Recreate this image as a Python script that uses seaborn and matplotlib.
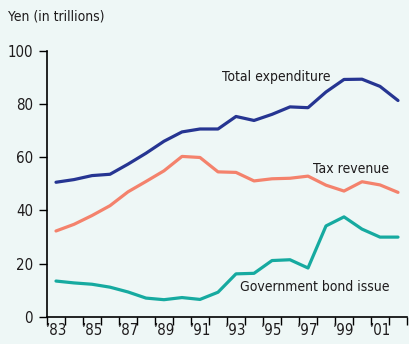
import matplotlib
matplotlib.use("Agg")
import matplotlib.pyplot as plt
from matplotlib import font_manager
import seaborn as sns
import pandas as pd

years = list(range(1983, 2003))
total_expenditure = [50.6, 51.6, 53.1, 53.6, 57.4, 61.5, 66.0, 69.5, 70.6, 70.6,
                     75.3, 73.8, 76.1, 78.9, 78.6, 84.5, 89.2, 89.3, 86.6, 81.3]
tax_revenue = [32.3, 34.8, 38.1, 41.8, 47.0, 50.9, 54.9, 60.3, 59.9, 54.5,
               54.3, 51.1, 51.9, 52.1, 52.9, 49.5, 47.3, 50.8, 49.6, 46.8]
bond_issue = [13.5, 12.8, 12.3, 11.2, 9.4, 7.1, 6.5, 7.3, 6.6, 9.3,
              16.2, 16.4, 21.2, 21.5, 18.4, 34.2, 37.6, 33.0, 30.0, 30.0]
series_names = ["Total expenditure", "Tax revenue", "Government bond issue"]
tick_years = years[::2]

bg = "#eef7f6"
colors = {"Total expenditure": "#263592",
          "Tax revenue": "#f4826c",
          "Government bond issue": "#16aaa0"}
ink = "#1e1b1c"

sns.set_style("ticks")
condensed = [f for f in font_manager.fontManager.ttflist
             if f.stretch in ("condensed", "semi-condensed") and "Sans" in f.name]
if condensed:
    family = condensed[0].name
    stretch = condensed[0].stretch
    size, tick_size = 10.0, 10.8
else:
    family = "Liberation Sans"
    stretch = "normal"
    size, tick_size = 10, 10.5
plt.rcParams["font.family"] = [family, "DejaVu Sans"]
plt.rcParams["font.stretch"] = stretch

df = pd.DataFrame({
    "year": years * 3,
    "value": total_expenditure + tax_revenue + bond_issue,
    "series": [series_names[0]] * 20 + [series_names[1]] * 20 + [series_names[2]] * 20,
})
# each year occupies one interval; points sit at the interval centre
df["x"] = df["year"] + 0.5

fig = plt.figure(figsize=(4.09, 3.44), dpi=100, facecolor=bg)
ax = fig.add_axes([47 / 409, (344 - 317) / 344, (407 - 47) / 409, (317 - 50.7) / 344])
ax.set_facecolor(bg)

sns.lineplot(data=df, x="x", y="value", hue="series", palette=colors,
             linewidth=2.3, legend=False, ax=ax)

ax.set_xlim(1983, 2003)
ax.set_ylim(0, 100)
ax.set_xticks(range(1983, 2004))
ax.set_xticklabels([])
ax.set_xticks([y + 0.5 for y in tick_years], minor=True)
ax.set_xticklabels(["\u2019" + str(y)[2:] for y in tick_years], minor=True)
ax.tick_params(axis="x", which="minor", length=0, pad=4, labelsize=tick_size, labelcolor=ink)
ax.tick_params(axis="x", which="major", length=6, width=1, color="black", direction="out")
ax.set_yticks(range(0, 101, 20))
ax.tick_params(axis="y", length=6, width=1, color="black", labelsize=tick_size, labelcolor=ink, pad=4)
for s in ("top", "right"):
    ax.spines[s].set_visible(False)
for s in ("left", "bottom"):
    ax.spines[s].set_linewidth(1.2)
    ax.spines[s].set_color("black")
ax.set_xlabel("")
ax.set_ylabel("")

ax.text(1992.72, 90.2, "Total expenditure", fontsize=size, color=ink, va="center")
ax.text(1997.78, 55.6, "Tax revenue", fontsize=size, color=ink, va="center")
ax.text(1993.72, 11.3, "Government bond issue", fontsize=size, color=ink, va="center")
fig.text(8 / 409, 1 - 16 / 344, "Yen (in trillions)", fontsize=size, color=ink, va="center")

fig.savefig("out.png", dpi=100, facecolor=bg)
